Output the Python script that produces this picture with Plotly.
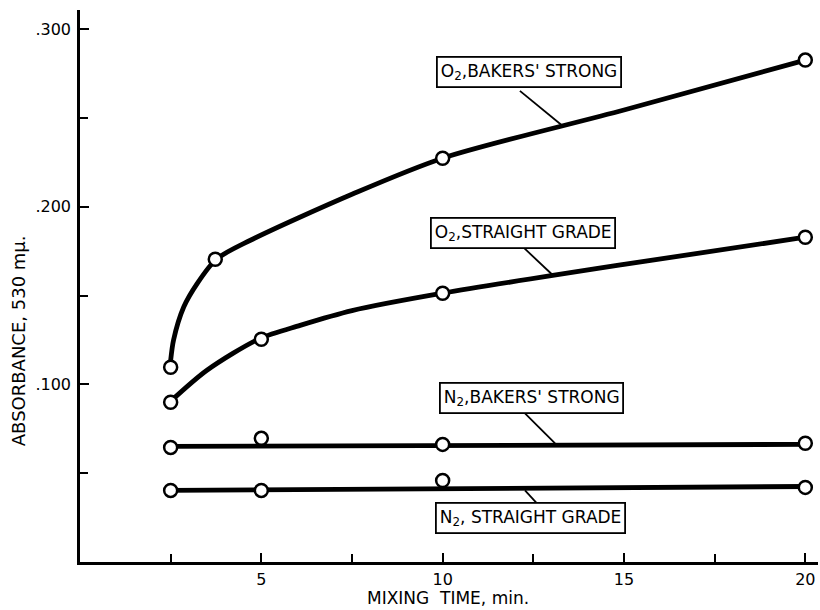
import plotly.graph_objects as go

# Measured points (mixing time, min ; absorbance at 530 mµ)
x_o2_bakers = [2.5, 3.73, 10, 20]
y_o2_bakers = [0.1096, 0.1704, 0.2273, 0.2825]
x_o2_straight = [2.5, 5, 10, 20]
y_o2_straight = [0.0899, 0.1254, 0.1513, 0.1828]
x_n2_bakers = [2.5, 5, 10, 20]
y_n2_bakers = [0.0645, 0.0696, 0.0662, 0.0668]
x_n2_straight = [2.5, 5, 10, 20]
y_n2_straight = [0.0403, 0.0403, 0.0459, 0.0420]

# Hand-drawn curves
cx_o2_bakers = [2.5, 2.58, 2.86, 3.23, 3.76, 4.7, 7.5, 10, 15, 20]
cy_o2_bakers = [0.1135, 0.125, 0.1435, 0.1567, 0.1704, 0.1811, 0.207, 0.2273, 0.2544, 0.2825]
cx_o2_straight = [2.47, 3.5, 4.95, 6.07, 7.5, 10, 15, 20]
cy_o2_straight = [0.0899, 0.1079, 0.1257, 0.1332, 0.1415, 0.1513, 0.1675, 0.1828]
cx_n2_bakers = [2.5, 20]
cy_n2_bakers = [0.0651, 0.0662]
cx_n2_straight = [2.5, 20]
cy_n2_straight = [0.0403, 0.0425]

x_tickvals = [5, 10, 15, 20]
x_ticktext = ["5", "10", "15", "20"]
x_minor_ticks = [2.5, 7.5, 12.5, 17.5]
y_tickvals = [0.1, 0.2, 0.3]
y_ticktext = [".100", ".200", ".300"]
y_minor_ticks = [0.05, 0.15, 0.25]

labels = [
    ("O<sub>2</sub>,BAKERS' STRONG", 12.38, 0.2757, (12.13, 0.2652, 13.32, 0.2453)),
    ("O<sub>2</sub>,STRAIGHT GRADE", 12.22, 0.1851, (12.22, 0.1772, 13.04, 0.1614)),
    ("N<sub>2</sub>,BAKERS' STRONG", 12.44, 0.0921, (12.27, 0.0837, 13.10, 0.0668)),
    ("N<sub>2</sub>, STRAIGHT GRADE", 12.41, 0.0245, (12.27, 0.0403, 12.60, 0.0330)),
]

FONT = "DejaVu Sans"

fig = go.Figure()
for cx, cy in [(cx_o2_bakers, cy_o2_bakers), (cx_o2_straight, cy_o2_straight),
               (cx_n2_bakers, cy_n2_bakers), (cx_n2_straight, cy_n2_straight)]:
    fig.add_trace(go.Scatter(x=cx, y=cy, mode="lines",
                             line=dict(color="black", width=4.8, shape="spline", smoothing=0.8),
                             hoverinfo="skip", showlegend=False))
for xs, ys in [(x_o2_bakers, y_o2_bakers), (x_o2_straight, y_o2_straight),
               (x_n2_bakers, y_n2_bakers), (x_n2_straight, y_n2_straight)]:
    fig.add_trace(go.Scatter(x=xs, y=ys, mode="markers",
                             marker=dict(symbol="circle", size=13, color="white",
                                         line=dict(color="black", width=2.5)),
                             showlegend=False))

for text, ax, ay, (x0, y0, x1, y1) in labels:
    fig.add_shape(type="line", x0=x0, y0=y0, x1=x1, y1=y1,
                  line=dict(color="black", width=1.8), layer="below")
    fig.add_annotation(x=ax, y=ay, text=text, showarrow=False,
                       font=dict(family=FONT, size=17, color="black"),
                       bgcolor="white", bordercolor="black", borderwidth=1.8, borderpad=3)

# axis titles
fig.add_annotation(xref="paper", yref="paper", x=0, y=0.40, xshift=-62,
                   text="ABSORBANCE, 530 mμ.", textangle=-90, showarrow=False,
                   font=dict(family=FONT, size=18, color="black"),
                   xanchor="center", yanchor="middle")
fig.add_annotation(xref="paper", yref="paper", x=0.4986, y=0, yshift=-36,
                   text="MIXING  TIME, min.", showarrow=False,
                   font=dict(family=FONT, size=17, color="black"),
                   xanchor="center", yanchor="middle")

fig.update_layout(
    width=820, height=610,
    margin=dict(l=80, r=2, t=10, b=48),
    plot_bgcolor="white", paper_bgcolor="white",
    font=dict(family=FONT, color="black"),
    xaxis=dict(range=[0, 20.35], tickvals=x_tickvals, ticktext=x_ticktext,
               ticks="inside", ticklen=9, tickwidth=2, tickcolor="black",
               minor=dict(tickvals=x_minor_ticks, ticks="inside", ticklen=8,
                          tickwidth=2, tickcolor="black", showgrid=False),
               showline=True, linecolor="black", linewidth=2.5, showgrid=False,
               zeroline=False, tickfont=dict(size=16), automargin=False,
               ticklabelstandoff=1),
    yaxis=dict(range=[0, 0.3107], tickvals=y_tickvals, ticktext=y_ticktext,
               ticks="inside", ticklen=9, tickwidth=2, tickcolor="black",
               minor=dict(tickvals=y_minor_ticks, ticks="inside", ticklen=8,
                          tickwidth=2, tickcolor="black", showgrid=False),
               showline=True, linecolor="black", linewidth=2.5, showgrid=False,
               zeroline=False, tickfont=dict(size=16), ticklabelstandoff=3,
               automargin=False),
)

fig.write_html("out.html", config={"displayModeBar": False},
               post_script="document.body.style.margin='0px';")
